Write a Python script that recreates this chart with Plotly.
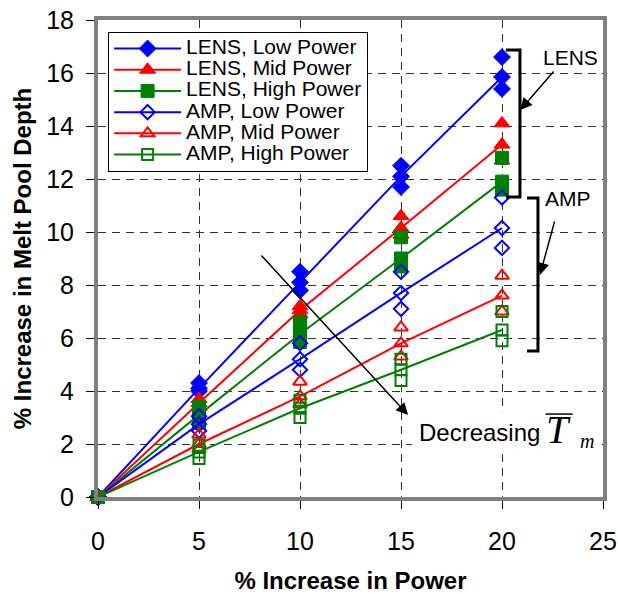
import plotly.graph_objects as go

# % increase in power
power = [0, 5, 10, 15, 20]

# % increase in melt pool depth: upper, middle (line), lower replicate values
lens_low_hi = [0, 4.3, 8.5, 12.5, 16.6]
lens_low_mid = [0, 4.1, 8.1, 12.1, 15.85]
lens_low_lo = [0, 4.0, 7.8, 11.7, 15.4]

lens_mid_hi = [0, 3.7, 7.2, 10.6, 14.1]
lens_mid_mid = [0, 3.55, 7.05, 10.15, 13.3]
lens_mid_lo = [0, 3.4, 6.9, 9.9, 12.7]

lens_high_hi = [0, 3.4, 6.6, 9.8, 12.8]
lens_high_mid = [0, 3.1, 6.15, 9.0, 11.9]
lens_high_lo = [0, 2.8, 5.85, 8.7, 11.6]

amp_low_hi = [0, 3.05, 5.8, 8.5, 11.3]
amp_low_mid = [0, 2.75, 5.2, 7.7, 10.15]
amp_low_lo = [0, 2.5, 4.8, 7.1, 9.4]

amp_mid_hi = [0, 2.35, 4.35, 6.4, 8.35]
amp_mid_mid = [0, 2.0, 3.8, 5.8, 7.6]
amp_mid_lo = [0, 1.8, 3.5, 5.3, 7.0]

amp_high_hi = [0, 1.95, 3.65, 5.2, 7.0]
amp_high_mid = [0, 1.7, 3.35, 4.8, 6.3]
amp_high_lo = [0, 1.45, 3.0, 4.4, 5.9]

series_names = ["LENS, Low Power", "LENS, Mid Power", "LENS, High Power",
                "AMP, Low Power", "AMP, Mid Power", "AMP, High Power"]
series_colors = ["#0000FF", "#FF0000", "#008000", "#0000FF", "#FF0000", "#008000"]
series_symbols = ["diamond", "triangle-up", "square",
                  "diamond-open", "triangle-up-open", "square-open"]
series_sizes = [13, 14, 13, 11, 12, 11]
series_data = [
    (lens_low_hi, lens_low_mid, lens_low_lo),
    (lens_mid_hi, lens_mid_mid, lens_mid_lo),
    (lens_high_hi, lens_high_mid, lens_high_lo),
    (amp_low_hi, amp_low_mid, amp_low_lo),
    (amp_mid_hi, amp_mid_mid, amp_mid_lo),
    (amp_high_hi, amp_high_mid, amp_high_lo),
]

fig = go.Figure()
for name, color, sym, size, (hi, mid, lo) in zip(series_names, series_colors, series_symbols,
                                                 series_sizes, series_data):
    lw = 2 if "open" in sym else 1
    mk = dict(symbol=sym, size=size, color=color, line=dict(color=color, width=lw))
    fig.add_trace(go.Scatter(
        x=power, y=mid, mode="lines+markers",
        name='<span style="font-size:21px">' + name + '</span>',
        line=dict(color=color, width=2), marker=mk, cliponaxis=False))
    for rep in (hi, lo):
        fig.add_trace(go.Scatter(x=power, y=rep, mode="markers", marker=mk,
                                 showlegend=False, cliponaxis=False))

font_main = "Liberation Sans, Arial, sans-serif"
font_serif = "Liberation Serif, Times New Roman, serif"

axis_common = dict(
    showline=True, linecolor="#808080", linewidth=4, mirror=True,
    ticks="outside", ticklen=8, tickcolor="black", tickwidth=1,
    showgrid=True, gridcolor="#303030", gridwidth=1, griddash="8px,6px",
    zeroline=False, automargin=False,
    tickfont=dict(family=font_main, size=25, color="black"),
)

fig.update_layout(
    width=618, height=594,
    margin=dict(l=98, r=15, t=20, b=97),
    paper_bgcolor="white", plot_bgcolor="white",
    font=dict(family=font_main, color="black"),
    xaxis=dict(range=[0, 25], dtick=5, tick0=0, ticklabelstandoff=11,
               title=dict(text="<b>% Increase in Power</b>",
                          font=dict(family=font_main, size=24), standoff=25),
               **axis_common),
    yaxis=dict(range=[0, 18], dtick=2, tick0=0, ticklabelstandoff=7,
               title=dict(text="<b>% Increase in Melt Pool Depth</b>",
                          font=dict(family=font_main, size=24), standoff=9),
               **axis_common),
    legend=dict(x=0.02, y=0.975, xanchor="left", yanchor="top",
                bgcolor="white", bordercolor="black", borderwidth=1,
                font=dict(family=font_main, size=14, color="black"),
                itemwidth=67, tracegroupgap=0, itemclick=False),
    showlegend=True,
)

# white box behind the "Decreasing Tm" label (hides gridlines there)
fig.add_shape(type="rect", xref="x", yref="y", x0=15.55, x1=24.85, y0=1.72, y1=3.2,
              fillcolor="white", line=dict(width=0), layer="between")

# Brackets
bracket_style = dict(color="black", width=3)
fig.add_shape(type="path", xref="x", yref="y",
              path="M 20.2,16.87 L 20.89,16.87 L 20.89,11.32 L 20.2,11.32",
              line=bracket_style)
fig.add_shape(type="path", xref="x", yref="y",
              path="M 21.24,11.28 L 21.78,11.28 L 21.78,5.51 L 21.24,5.51",
              line=bracket_style)

# Arrows
arrow = dict(showarrow=True, arrowhead=2, arrowsize=1.6, arrowwidth=1.5,
             arrowcolor="black", axref="x", ayref="y", text="")
fig.add_annotation(x=20.9, y=14.6, ax=22.62, ay=16.11, **arrow)
fig.add_annotation(x=21.88, y=8.38, ax=22.62, ay=10.45, **arrow)
fig.add_annotation(x=15.35, y=3.09, ax=8.02, ay=9.17, **arrow)

fig.add_annotation(x=23.37, y=16.57, text="LENS", showarrow=False,
                   font=dict(family=font_main, size=21, color="black"))
fig.add_annotation(x=23.27, y=11.28, text="AMP", showarrow=False,
                   font=dict(family=font_main, size=21, color="black"))

fig.add_annotation(x=15.79, y=2.45, text="Decreasing", showarrow=False, xanchor="left",
                   font=dict(family=font_main, size=24, color="black"))
fig.add_annotation(x=22.1, y=2.55, text="<i>T</i>", showarrow=False, xanchor="left",
                   font=dict(family=font_serif, size=40, color="black"))
fig.add_annotation(x=23.75, y=2.1, text="<i>m</i>", showarrow=False, xanchor="left",
                   font=dict(family=font_serif, size=20, color="black"))
fig.add_shape(type="line", xref="x", yref="y", x0=22.15, x1=23.5, y0=3.13, y1=3.13,
              line=dict(color="black", width=1.5))

fig.write_html("out.html", config={"displayModeBar": False},
               post_script="document.body.style.margin='0px';")
